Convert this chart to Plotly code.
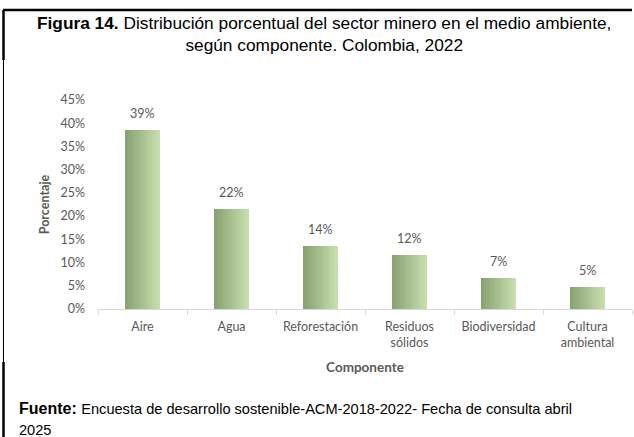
import plotly.graph_objects as go

categories = ["Aire", "Agua", "Reforestación", "Residuos<br>sólidos", "Biodiversidad", "Cultura<br>ambiental"]
values = [38.6, 21.6, 13.6, 11.6, 6.6, 4.7]
y_ticks = [0, 5, 10, 15, 20, 25, 30, 35, 40, 45]
y_tick_text = ["0%", "5%", "10%", "15%", "20%", "25%", "30%", "35%", "40%", "45%"]

W, H = 634, 437
L, R, T, B = 98, 2, 100, 128
pw, ph = W - L - R, H - T - B

def px(x):
    return (x - L) / pw

def py(y):
    return (H - B - y) / ph

fig = go.Figure()

# horizontal gradient bars built from thin slices
n = 14
bw = 0.39
c0 = (138, 163, 115)
c1 = (198, 222, 172)
for i in range(n):
    t = i / (n - 1)
    col = "rgb(%d,%d,%d)" % tuple(round(a + (b - a) * t) for a, b in zip(c0, c1))
    fig.add_trace(go.Bar(
        x=categories, y=values, width=bw / n + 0.002,
        offset=-bw / 2 + i * bw / n,
        marker=dict(color=col, line=dict(width=0)),
        showlegend=False, hoverinfo="skip",
    ))

label_font = dict(family="Lato, Open Sans, sans-serif", size=12.5, color="#595959")
annotations = [
    dict(x=c, y=v, xref="x", yref="y", text="%d%%" % round(v), showarrow=False,
         yanchor="bottom", yshift=7, font=label_font)
    for c, v in zip(categories, values)
]

annotations += [
    dict(xref="paper", yref="paper", x=px(324), y=py(34), xanchor="center", yanchor="middle",
         showarrow=False, align="center",
         text="<b>Figura 14.</b> Distribución porcentual del sector minero en el medio ambiente,<br>según componente. Colombia, 2022",
         font=dict(family="Liberation Sans Narrow, Arial Narrow, Liberation Sans, sans-serif", size=17.3, color="black")),
    dict(xref="paper", yref="paper", x=px(17), y=py(419), xanchor="left", yanchor="middle",
         showarrow=False, align="left",
         text="<b>Fuente:</b> <span style='font-size:14.6px'>Encuesta de desarrollo sostenible-ACM-2018-2022- Fecha de consulta abril</span><br><span style='font-size:14.6px'>2025</span>",
         font=dict(family="Liberation Sans Narrow, Arial Narrow, Liberation Sans, sans-serif", size=16, color="black")),
]

fig.update_layout(
    width=W, height=H,
    margin=dict(l=L, r=R, t=T, b=B, autoexpand=False),
    paper_bgcolor="white", plot_bgcolor="white",
    barmode="overlay", bargap=0,
    font=dict(family="Lato, Open Sans, sans-serif", color="#595959", size=12),
    xaxis=dict(
        showline=True, linecolor="#d9d9d9", linewidth=1,
        ticks="outside", tickson="boundaries", ticklen=5, tickcolor="#d9d9d9",
        tickfont=dict(size=12.5, color="#595959"), ticklabelstandoff=6,
        title=dict(text="<b>Componente</b>", font=dict(size=13.5, color="#595959"), standoff=13),
        fixedrange=True,
    ),
    yaxis=dict(
        range=[0, 45], tickvals=y_ticks, ticktext=y_tick_text,
        showgrid=False, zeroline=False, showline=False,
        tickfont=dict(size=12.5, color="#595959"),
        ticks="", ticklabelstandoff=12,
        title=dict(text="<b>Porcentaje</b>", font=dict(size=12.5, color="#595959"), standoff=8),
        fixedrange=True,
    ),
    shapes=[
        dict(type="line", xref="paper", yref="paper", x0=px(3), x1=px(632), y0=py(10), y1=py(10),
             line=dict(color="black", width=2.5)),
        dict(type="line", xref="paper", yref="paper", x0=px(3.5), x1=px(3.5), y0=py(10), y1=py(60),
             line=dict(color="black", width=2.5)),
        dict(type="line", xref="paper", yref="paper", x0=px(3.5), x1=px(3.5), y0=py(60), y1=py(362),
             line=dict(color="black", width=1)),
        dict(type="line", xref="paper", yref="paper", x0=px(3.5), x1=px(3.5), y0=py(362), y1=py(437),
             line=dict(color="black", width=2.5)),
    ],
    annotations=annotations,
)

fig.write_html("out.html", config={"displayModeBar": False},
               post_script="document.body.style.margin='0';document.body.style.overflow='hidden';")
